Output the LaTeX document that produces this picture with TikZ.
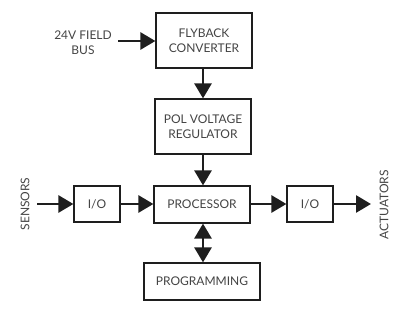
\documentclass[tikz,border=0pt]{standalone}
\usepackage{fontspec}
\setmainfont{Lato}
\usetikzlibrary{arrows.meta}
\definecolor{txt}{HTML}{444444}
\definecolor{ln}{HTML}{1E1E1E}
\tikzset{
  blk/.style={draw=ln, line width=1.2pt, fill=white, inner sep=0pt, align=center,
    text=txt, font=\fontsize{12}{15}\selectfont},
  lbl/.style={text=txt, font=\fontsize{12}{15}\selectfont, align=center, inner sep=0pt},
  arr/.style={draw=ln, line width=2.8pt, -{Triangle[length=15pt,width=17pt]}},
  darr/.style={draw=ln, line width=2.8pt, {Triangle[length=15pt,width=17pt]}-{Triangle[length=15pt,width=17pt]}}
}
\begin{document}
\begin{tikzpicture}[x=1pt,y=-1pt]
\useasboundingbox (0,0) rectangle (400,312);
\node[blk, minimum width=96pt, minimum height=55pt] (fly) at (204,40.5) {FLYBACK\\CONVERTER};
\node[blk, minimum width=96pt, minimum height=55pt] (pol) at (203,126.5) {POL VOLTAGE\\REGULATOR};
\node[blk, minimum width=96pt, minimum height=37pt] (proc) at (202,204.5) {PROCESSOR};
\node[blk, minimum width=46pt, minimum height=36pt] (iol) at (97,204) {I/O};
\node[blk, minimum width=46pt, minimum height=36pt] (ior) at (310,204) {I/O};
\node[blk, minimum width=116pt, minimum height=37pt] (prog) at (202,281.5) {PROGRAMMING};
\node[lbl] (bus) at (83,43) {24V FIELD\\BUS};
\node[lbl, rotate=90] (sens) at (25,204) {SENSORS};
\node[lbl, rotate=90] (act) at (384,205) {ACTUATORS};
\coordinate (busend) at (118,41);
\coordinate (sensend) at (37,204);
\coordinate (actend) at (371,204);
\draw[arr] (busend) -- (fly.west |- busend);
\draw[arr] (fly.south -| 203,0) -- (pol.north -| 203,0);
\draw[arr] (pol.south -| 203,0) -- (proc.north -| 203,0);
\draw[arr] (sensend) -- (iol.west);
\draw[arr] (iol.east) -- (proc.west |- iol.east);
\draw[arr] (proc.east |- ior.west) -- (ior.west);
\draw[arr] (ior.east) -- (actend);
\draw[darr] (proc.south -| 203,0) -- (prog.north -| 203,0);
\end{tikzpicture}
\end{document}
